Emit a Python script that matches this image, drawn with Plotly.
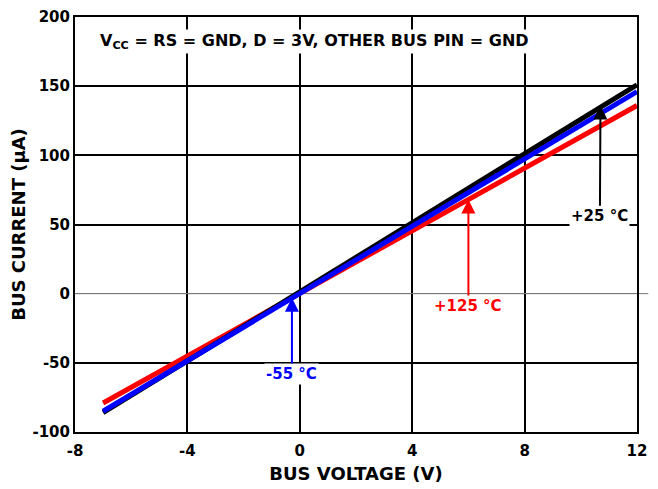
import plotly.graph_objects as go

# Data
series_names = ["+125 °C", "+25 °C", "-55 °C"]
series_colors = ["#ff0000", "#000000", "#0000ff"]
x_red = [-7, 12]
y_red = [-79, 136]
x_black = [-7, 12]
y_black = [-86, 151]
x_blue = [-7, 12]
y_blue = [-85, 146]

x_ticks = [-8, -4, 0, 4, 8, 12]
x_tick_labels = ["-8", "-4", "0", "4", "8", "12"]
y_ticks = [-100, -50, 0, 50, 100, 150, 200]
y_tick_labels = ["-100", "-50", "0", "50", "100", "150", "200"]

fig = go.Figure()
for xs, ys, name, col in [(x_red, y_red, series_names[0], series_colors[0]),
                          (x_black, y_black, series_names[1], series_colors[1]),
                          (x_blue, y_blue, series_names[2], series_colors[2])]:
    fig.add_trace(go.Scatter(x=xs, y=ys, mode="lines", name=name,
                             line=dict(color=col, width=5), showlegend=False))

FAM = "DejaVu Sans, Arial, sans-serif"
font_bold = dict(family=FAM, size=15, color="black", weight="bold")

# page has an 8px body margin; figure size/margins compensate for it
fig.update_layout(
    width=650, height=481,
    margin=dict(l=67, r=21, t=9, b=57),
    paper_bgcolor="white", plot_bgcolor="white",
    font=font_bold,
    xaxis=dict(range=[-8, 12], tickvals=x_ticks, ticktext=x_tick_labels,
               showgrid=True, gridcolor="black", gridwidth=2, automargin=False,
               zeroline=False, showline=True, linecolor="black", linewidth=2, mirror=True,
               ticks="outside", ticklen=4, tickcolor="white",
               title=dict(text="BUS VOLTAGE (V)", standoff=8),
               tickfont=font_bold),
    yaxis=dict(range=[-100, 200], tickvals=y_ticks, ticktext=y_tick_labels,
               showgrid=True, gridcolor="black", gridwidth=2, automargin=False,
               zeroline=True, zerolinecolor="#777777", zerolinewidth=1,
               showline=True, linecolor="black", linewidth=2, mirror=True,
               ticks="", title=dict(text="BUS CURRENT (µA)", standoff=4),
               tickfont=font_bold),
)

# zero line extending slightly beyond the right border
fig.add_shape(type="line", xref="paper", yref="y", x0=0, x1=1.02, y0=0, y1=0,
              line=dict(color="#777777", width=1), layer="below")

fig.add_annotation(xref="paper", yref="paper", x=0.041, y=0.942, xanchor="left", yanchor="middle",
                   text="V<sub>CC</sub> = RS = GND, D = 3V, OTHER BUS PIN = GND",
                   showarrow=False, font=dict(family=FAM, size=16, color="black", weight="bold"),
                   bgcolor="white")

ann = [
    ("+25 °C", "#000000", 10.7, 136, 10.68, 56),
    ("+125 °C", "#ff0000", 6.0, 68, 6.0, -9),
    ("-55 °C", "#0000ff", -0.28, -3, -0.28, -58),
]
for text, col, xt, yt, xa, ya in ann:
    fig.add_annotation(x=xt, y=yt, ax=xa, ay=ya, xref="x", yref="y", axref="x", ayref="y",
                       text=text, showarrow=True, arrowhead=2, arrowsize=1.4, arrowwidth=2,
                       arrowcolor=col, font=dict(family=FAM, size=15, color=col, weight="bold"),
                       bgcolor="white", borderpad=1)

fig.write_html("out.html")
